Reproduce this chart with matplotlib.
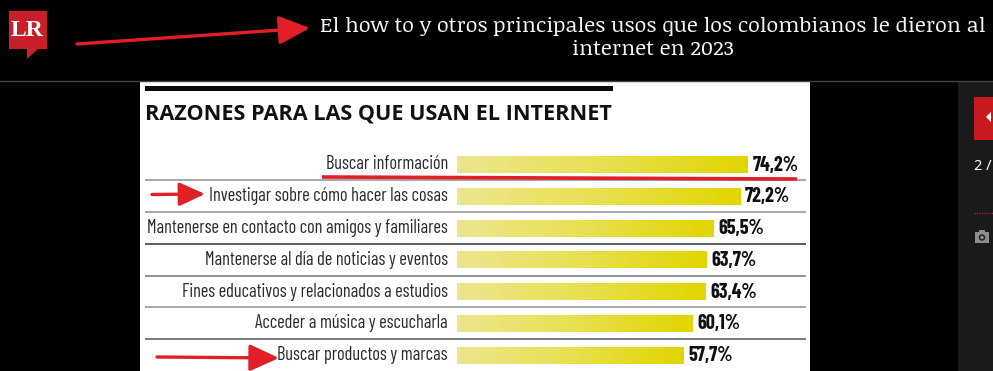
import numpy as np
import matplotlib
matplotlib.use("Agg")
import matplotlib.pyplot as plt
from matplotlib.colors import LinearSegmentedColormap
from matplotlib.patches import Polygon, Rectangle

page_title = "El how to y otros principales usos que los colombianos le dieron al\ninternet en 2023"
chart_title = "RAZONES PARA LAS QUE USAN EL INTERNET"
categories = [
    "Buscar información",
    "Investigar sobre cómo hacer las cosas",
    "Mantenerse en contacto con amigos y familiares",
    "Mantenerse al día de noticias y eventos",
    "Fines educativos y relacionados a estudios",
    "Acceder a música y escucharla",
    "Buscar productos y marcas",
]
values = [74.2, 72.2, 65.5, 63.7, 63.4, 60.1, 57.7]
value_labels = ["74,2%", "72,2%", "65,5%", "63,7%", "63,4%", "60,1%", "57,7%"]

W, H = 993, 371
RED = "#e01f26"
NARROW = ["Barlow Condensed", "Roboto Condensed", "Liberation Sans", "DejaVu Sans"]
SERIF = ["Noticia Text", "Liberation Serif", "DejaVu Serif"]

fig = plt.figure(figsize=(W / 100, H / 100), dpi=100, facecolor="black")

# page furniture, in pixel coordinates
bg = fig.add_axes([0, 0, 1, 1])
bg.set_xlim(0, W)
bg.set_ylim(H, 0)
bg.axis("off")
bg.add_patch(Rectangle((140, 81), 670, 290, color="white", lw=0))
bg.add_patch(Rectangle((958, 81), 35, 290, color="#1a1a1a", lw=0))
bg.plot([0, W], [80.5, 80.5], color="#444444", lw=1)
bg.add_patch(Rectangle((145, 86), 468, 4.5, color="#0a0a0a", lw=0))
bg.text(145, 114, chart_title, fontsize=15.6, fontweight="bold", family=["Open Sans", "DejaVu Sans"],
        color="#111111", va="center", ha="left")

# logo
bg.add_patch(Polygon([(9, 11), (47, 11), (47, 49), (38, 49), (27, 59), (27, 49), (9, 49)],
                     closed=True, color="#c8202a", lw=0))
bg.text(27.5, 31, "LR", fontsize=17, fontweight="bold", family="Liberation Serif",
        color="white", ha="center", va="center")
bg.text(653, 38, page_title, fontsize=15.45, family=SERIF, color="#f5f5f5",
        ha="center", va="center", linespacing=1.3)

# side panel
bg.add_patch(Rectangle((974, 97), 19, 43, color="#c8191f", lw=0))
bg.add_patch(Polygon([(986, 117), (991, 112), (991, 122)], closed=True, color="white", lw=0))
bg.text(974, 167, "2 /", fontsize=10.5, color="white", va="center", ha="left", family="Noto Sans")
bg.plot([974, 993], [212.5, 212.5], color="#b02a35", lw=0.9, ls=(0, (1, 1)))
bg.add_patch(Rectangle((975, 232), 14, 11, color="#8c8c8c", lw=0))
bg.add_patch(Rectangle((979, 230), 6, 2, color="#8c8c8c", lw=0))
bg.add_patch(plt.Circle((982, 237.5), 2.5, fill=False, ec="#1a1a1a", lw=1))

# chart axes: x is percent, y is category index
left_px, right_px, top_px = 145, 806, 148.6
px_per_unit = 3.92
row_px = 31.77
ax = fig.add_axes([left_px / W, 0, (right_px - left_px) / W, (H - top_px) / H])
ax.patch.set_alpha(0)
ax.axis("off")
y = np.arange(len(categories))
bars = ax.barh(y, values, height=17 / row_px, color="#e4da30", lw=0)

gradient = np.linspace(0, 1, 256).reshape(1, -1)
cmap = LinearSegmentedColormap.from_list("bar", ["#ebe68f", "#e8e050", "#e2d500"])
for bar in bars:
    im = ax.imshow(gradient, cmap=cmap, aspect="auto", zorder=3,
                   extent=(bar.get_x(), bar.get_x() + bar.get_width(),
                           bar.get_y() + bar.get_height(), bar.get_y()))
    im.set_clip_path(bar)

ax.set_xlim(-(457 - left_px) / px_per_unit, (right_px - 457) / px_per_unit)
ax.set_ylim(len(categories) - 0.5, -0.5)

line_colors = ["#8f8f8f", "#8f8f8f", "#333333", "#777777", "#8f8f8f", "#555555"]
for i, c in enumerate(line_colors):
    ax.axhline(i + 0.5, color=c, lw=1.1, zorder=1)

for i, (cat, val, lab) in enumerate(zip(categories, values, value_labels)):
    ax.text(-2.3, i, cat, family=NARROW, fontsize=13.2, color="#2b2b2b",
            ha="right", va="center")
    ax.text(val + 1.2, i + 0.02, lab, family=NARROW, fontsize=14.4, fontweight="bold",
            color="#111111", ha="left", va="center")

# red annotations on top
top = fig.add_axes([0, 0, 1, 1])
top.set_xlim(0, W)
top.set_ylim(H, 0)
top.axis("off")
top.plot([322, 797], [177, 179], color=RED, lw=2.6, solid_capstyle="butt")
for start, end, ms in [((77, 44), (310, 28), 16), ((152, 194.5), (205, 194), 13), ((157, 357), (279, 358), 15)]:
    top.annotate("", xy=end, xytext=start,
                 arrowprops=dict(arrowstyle="-|>,head_width=0.55,head_length=1.2", color=RED,
                                 lw=2.4, mutation_scale=ms, shrinkA=0, shrinkB=0))

fig.savefig("out.png", dpi=100, facecolor="black")
